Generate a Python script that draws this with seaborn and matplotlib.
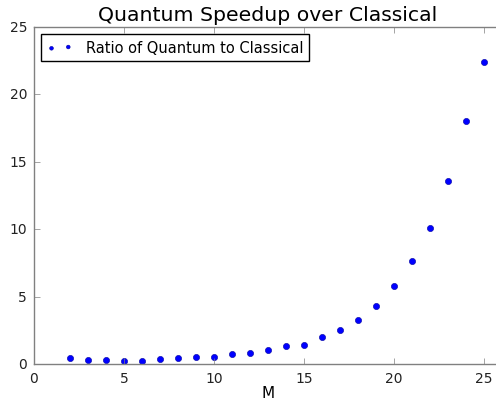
import numpy as np
import pandas as pd
import matplotlib
matplotlib.use("Agg")
import matplotlib.pyplot as plt
import seaborn as sns

plt.style.use("classic")

# values
m_values = [2, 3, 4, 5, 6, 7, 8, 9, 10, 11, 12, 13, 14, 15, 16, 17, 18, 19, 20, 21, 22, 23, 24, 25]
ratio = [0.47, 0.32, 0.32, 0.25, 0.25, 0.37, 0.42, 0.52, 0.52, 0.74, 0.79, 1.04,
         1.34, 1.40, 2.02, 2.52, 3.24, 4.33, 5.76, 7.67, 10.12, 13.58, 18.0, 22.43]

df = pd.DataFrame({"M": m_values, "ratio": ratio})

fig = plt.figure(figsize=(4.96, 4.02), dpi=100)
# the reference is cropped on the right, so the axes run past the image edge
ax = fig.add_axes([34 / 496, 37 / 402, 468 / 496, 337 / 402])

sns.scatterplot(data=df, x="M", y="ratio", ax=ax, color="blue", edgecolor="#0000a0",
                s=20, linewidth=0.4, label="Ratio of Quantum to Classical")

ax.set_xlim(0, 26)
ax.set_ylim(0, 25)
ax.set_xticks([0, 5, 10, 15, 20, 25])
ax.set_xlabel("M", fontsize=11, labelpad=0)
ax.set_ylabel("")
ax.set_title("Quantum Speedup over Classical", fontsize=14.7, y=1.0)
ax.tick_params(labelsize=10, colors="#222222", pad=5)
ax.tick_params(color="#808080")
for sp in ax.spines.values():
    sp.set_color("#808080")
ax.legend(loc="upper left", scatterpoints=2, fontsize=10.5, markerscale=0.6,
          borderaxespad=0.5, handlelength=1.75, handletextpad=0.9)

fig.savefig("out.png", dpi=100)
